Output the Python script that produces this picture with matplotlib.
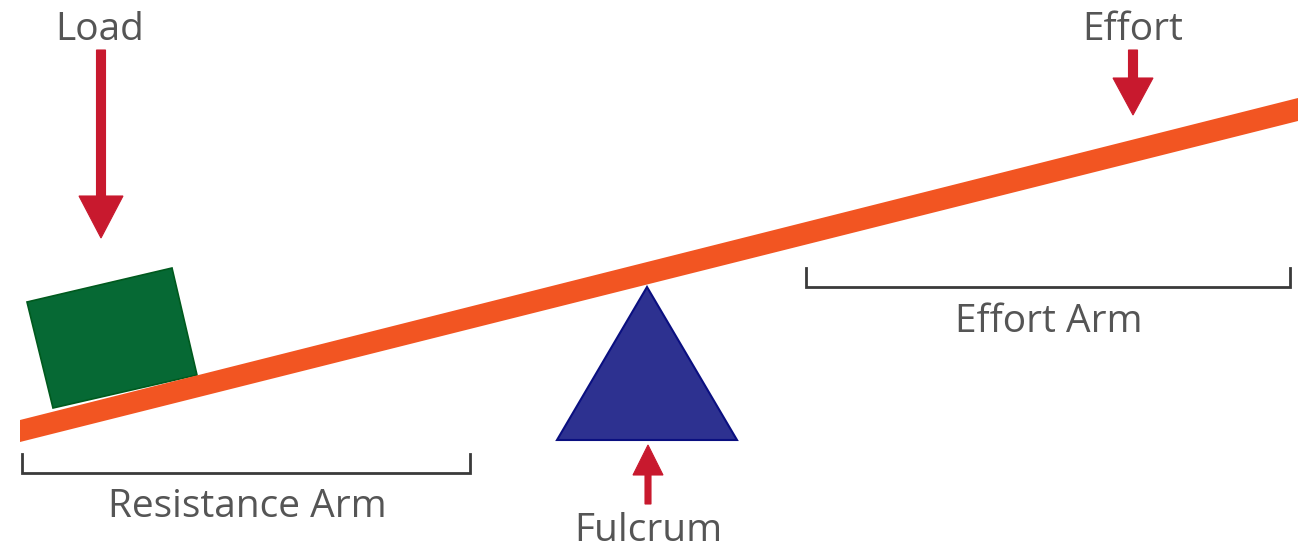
import matplotlib
matplotlib.use("Agg")
import matplotlib.pyplot as plt
from matplotlib.patches import Polygon

# Lever diagram, drawn in pixel coordinates of a 1312x548 canvas (y grows downwards)
lever_x = [20, 1298]
lever_top = [420, 98]
lever_bottom = [442, 121]

load_box = [(27, 302), (172, 268), (197, 375), (53, 408)]
fulcrum_tri = [(647, 287), (557, 440), (737, 440)]

# arrows: x, y start, y end, shaft width, head width, head length
load_arrow = [101, 50, 238, 9, 44, 42]
effort_arrow = [1133, 50, 115, 9, 40, 37]
fulcrum_arrow = [648, 504, 445, 6, 30, 30]

# brackets: x left, x right, y line, y tick top
resistance_bracket = [22, 470, 473, 454]
effort_bracket = [806, 1290, 287, 268]

labels = ["Load", "Effort", "Fulcrum", "Resistance Arm", "Effort Arm"]
label_x = [100, 1133, 648, 247, 1049]
label_y = [40, 40, 541, 517, 332]

orange = "#F25522"
red = "#C8192E"
text_col = "#555555"

fig = plt.figure(figsize=(13.12, 5.48), dpi=100)
ax = fig.add_axes([0, 0, 1, 1])
ax.set_xlim(0, 1312)
ax.set_ylim(548, 0)
ax.axis("off")

# lever bar
bar = [(lever_x[0], lever_top[0]), (lever_x[1], lever_top[1]),
       (lever_x[1], lever_bottom[1]), (lever_x[0], lever_bottom[0])]
ax.add_patch(Polygon(bar, closed=True, facecolor=orange, edgecolor="none", zorder=2))

# load block and fulcrum
ax.add_patch(Polygon(load_box, closed=True, facecolor="#066934", edgecolor="#005a1e",
                     linewidth=1.2, zorder=1))
ax.add_patch(Polygon(fulcrum_tri, closed=True, facecolor="#2D3190", edgecolor="#0a0f80",
                     linewidth=1.5, zorder=3))

for x, y0, y1, w, hw, hl in [load_arrow, effort_arrow, fulcrum_arrow]:
    ax.arrow(x, y0, 0, y1 - y0, width=w, head_width=hw, head_length=hl,
             length_includes_head=True, facecolor=red, edgecolor=red,
             linewidth=0.8, zorder=4)

for xl, xr, yl, yt in [resistance_bracket, effort_bracket]:
    ax.plot([xl, xl, xr, xr], [yt, yl, yl, yt], color="#3a3a3a", linewidth=2.0,
            solid_joinstyle="miter", zorder=2)

for txt, x, y in zip(labels, label_x, label_y):
    ax.text(x, y, txt, ha="center", va="baseline", fontsize=28,
            family="Open Sans", color=text_col)

fig.savefig("out.png", dpi=100)
